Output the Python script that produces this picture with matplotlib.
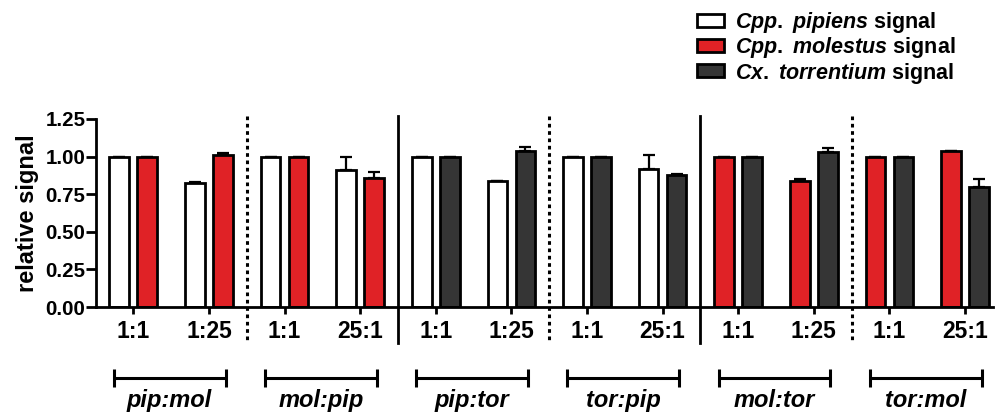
import numpy as np
from matplotlib import pyplot as plt
from matplotlib.patches import Patch

plt.rcParams['font.family'] = ['Liberation Sans', 'DejaVu Sans']
plt.rcParams['mathtext.fontset'] = 'custom'
plt.rcParams['mathtext.it'] = 'Liberation Sans:italic:bold'
plt.rcParams['mathtext.rm'] = 'Liberation Sans:bold'

# data
groups = ["pip:mol", "mol:pip", "pip:tor", "tor:pip", "mol:tor", "tor:mol"]
ratios = ["1:1", "1:25", "1:1", "25:1", "1:1", "1:25",
          "1:1", "25:1", "1:1", "1:25", "1:1", "25:1"]
left_vals = [1.00, 0.825, 1.00, 0.91, 1.00, 0.835, 1.00, 0.92, 1.00, 0.84, 1.00, 1.04]
left_err = [0, 0.006, 0, 0.09, 0, 0.004, 0, 0.09, 0, 0.008, 0, 0]
right_vals = [1.00, 1.01, 1.00, 0.86, 1.00, 1.04, 1.00, 0.88, 1.00, 1.03, 1.00, 0.80]
right_err = [0, 0.012, 0, 0.04, 0, 0.025, 0, 0.005, 0, 0.03, 0, 0.05]
# which species is drawn left/right in each group
left_species = ["pip", "pip", "pip", "pip", "mol", "mol"]
right_species = ["mol", "mol", "tor", "tor", "tor", "tor"]
# separator after each group: dotted within pair, solid between pairs
separators = [":", "-", ":", "-", ":"]

colors = {"pip": "white", "mol": "#e02226", "tor": "#353535"}
legend_labels = [r"$\mathit{Cpp.}$ $\mathit{pipiens}$ signal",
                 r"$\mathit{Cpp.}$ $\mathit{molestus}$ signal",
                 r"$\mathit{Cx.}$ $\mathit{torrentium}$ signal"]

fig = plt.figure(figsize=(9.98, 4.19), dpi=100)
ax = fig.add_axes([0.0962, 0.2673, 0.8988, 0.4487])

x = np.arange(len(ratios))
w = 0.26
off = 0.185
lcol = [colors[left_species[i // 2]] for i in x]
rcol = [colors[right_species[i // 2]] for i in x]
ax.bar(x - off, left_vals, w, color=lcol, edgecolor="black", linewidth=2, zorder=2)
ax.bar(x + off, right_vals, w, color=rcol, edgecolor="black", linewidth=2, zorder=2)
ekw = dict(fmt="none", ecolor="black", elinewidth=1.6, capsize=4.5, capthick=1.6, zorder=1)
ax.errorbar(x - off, left_vals, yerr=[np.zeros(len(x)), left_err], **ekw)
ax.errorbar(x + off, right_vals, yerr=[np.zeros(len(x)), right_err], **ekw)

for i, ls in enumerate(separators):
    xs = 2 * i + 1.5
    if ls == ":":
        ax.plot([xs, xs], [1.27, -0.22], color="black", lw=2.2,
                linestyle=(0, (1.2, 1.2)), clip_on=False)
    else:
        ax.plot([xs, xs], [1.27, -0.24], color="black", lw=2, clip_on=False)

# group brackets and names under the axis
for g, name in enumerate(groups):
    c = 2 * g + 0.48
    ax.errorbar(c, -0.472, xerr=0.74, fmt="none", ecolor="black",
                elinewidth=2.2, capsize=6.5, capthick=2.2, clip_on=False)
    ax.text(c, -0.62, name, ha="center", va="center", fontsize=17,
            fontweight="bold", fontstyle="italic", clip_on=False)

ax.set_xlim(-0.493, 11.37)
ax.set_ylim(0, 1.25)
ax.set_xticks(x)
ax.set_xticklabels(ratios, fontsize=16.5, fontweight="bold")
ax.set_yticks([0, 0.25, 0.5, 0.75, 1.0, 1.25])
ax.set_yticklabels(["%.2f" % v for v in [0, 0.25, 0.5, 0.75, 1.0, 1.25]],
                   fontsize=14.8, fontweight="bold")
ax.set_ylabel("relative signal", fontsize=17, fontweight="bold", labelpad=5)
ax.tick_params(axis="x", width=2, length=5, pad=4)
ax.tick_params(axis="y", width=2, length=7, pad=0.5)
for s in ["top", "right"]:
    ax.spines[s].set_visible(False)
for s in ["left", "bottom"]:
    ax.spines[s].set_linewidth(2)

handles = [Patch(facecolor=colors[k], edgecolor="black", linewidth=2)
           for k in ["pip", "mol", "tor"]]
fig.legend(handles, legend_labels, loc="upper left", bbox_to_anchor=(0.689, 1.0),
           frameon=False, prop={"size": 15.5, "weight": "bold"},
           handlelength=1.25, handleheight=0.55, handletextpad=0.5,
           labelspacing=0.02, borderaxespad=0.25, borderpad=0.2)

fig.savefig("out.png", dpi=100)
